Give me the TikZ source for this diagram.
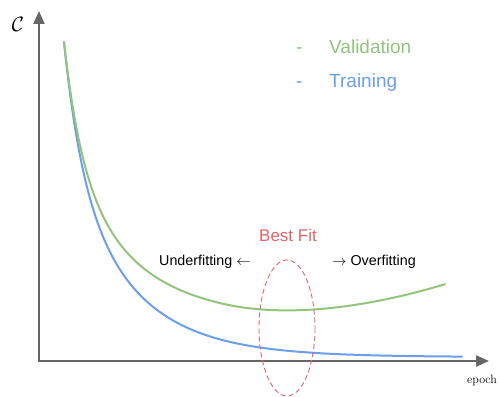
\documentclass[tikz,border=0pt]{standalone}
\usepackage{fontspec}
\setmainfont{Latin Modern Roman}
\newfontfamily\arialf{Liberation Sans}
\usetikzlibrary{arrows.meta}
\definecolor{valgreen}{HTML}{93C47D}
\definecolor{trblue}{HTML}{6D9EEB}
\definecolor{fitred}{HTML}{E06666}
\definecolor{axisgray}{HTML}{666666}
\tikzset{
  axisline/.style={draw=axisgray, line width=2pt, -{Triangle[length=13pt,width=11pt]}},
  curveline/.style={line width=2pt, line join=round, line cap=round},
  lbl/.style={inner sep=0pt, anchor=base west},
}
\begin{document}
\begin{tikzpicture}[x=1pt,y=-1pt]
\useasboundingbox (0,0) rectangle (500,396);
\coordinate (o) at (39,361);
\coordinate (ytip) at (39,11);
\coordinate (xtip) at (489,361);
\draw[axisline] (39,362) -- (ytip);
\draw[axisline] (38,361) -- (xtip);
% training
\draw[curveline, trblue] plot[domain=0:398, samples=200, variable=\t]
  ({64+\t},{357-121*exp(-\t/18)-194*exp(-\t/65)});
% validation
\draw[curveline, valgreen] plot[domain=0:381, samples=200, variable=\t]
  ({64+\t},{357-121*exp(-\t/18)-194*exp(-\t/65)-38*(1-exp(-\t/50))-0.0007*max(0,\t-160)*max(0,\t-160)});
% best fit ellipse
\draw[fitred, line width=0.9pt, dash pattern=on 5pt off 3pt] (287,328) ellipse [x radius=28, y radius=68];
\node[lbl, text=fitred, font=\arialf\fontsize{17}{20}\selectfont] (best) at (259,241) {Best Fit};
\node[lbl, font=\arialf\fontsize{14.3}{17}\selectfont] (under) at (159,265) {Underfitting $\leftarrow$};
\node[lbl, font=\arialf\fontsize{14.3}{17}\selectfont] (over) at (332,265) {$\rightarrow$ Overfitting};
\node[lbl, text=valgreen, font=\arialf\fontsize{19}{22}\selectfont] (valdash) at (296,53) {-};
\node[lbl, text=valgreen, font=\arialf\fontsize{19}{22}\selectfont] (val) at (329,53) {Validation};
\node[lbl, text=trblue, font=\arialf\fontsize{19}{22}\selectfont] (trdash) at (296,87) {-};
\node[lbl, text=trblue, font=\arialf\fontsize{19}{22}\selectfont] (tr) at (329,87) {Training};
\node[inner sep=0pt, font=\fontsize{20}{24}\selectfont] (cost) at (18,24) {$\mathcal{C}$};
\node[lbl, font=\fontsize{12}{14}\selectfont] (epoch) at (467,383) {epoch};
\end{tikzpicture}
\end{document}
